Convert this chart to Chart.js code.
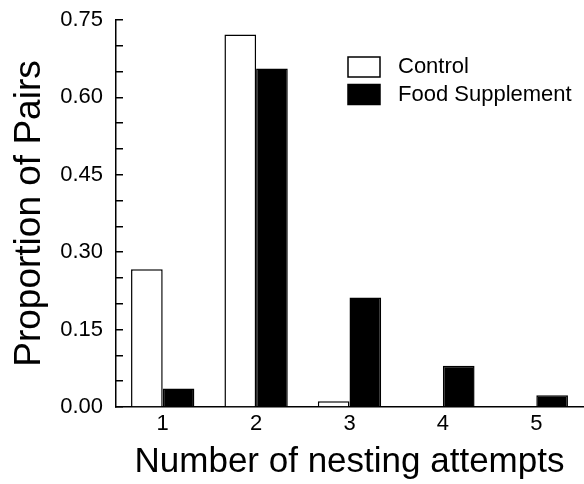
<!DOCTYPE html>
<html>
<head>
<meta charset="utf-8">
<script src="https://cdn.jsdelivr.net/npm/chart.js@4"></script>
<style>
    html, body { margin: 0; padding: 0; background: #fff; }
    canvas { display: block; }
</style>
</head>
<body>
<canvas id="chart" width="584" height="484"></canvas>
<script>
(function (window, document) {
    "use strict";

    const categories = ["1", "2", "3", "4", "5"];
    const seriesNames = ["Control", "Food Supplement"];
    const controlValues = [0.267, 0.722, 0.011, 0, 0];
    const foodValues = [0.036, 0.656, 0.212, 0.080, 0.023];
    const yMajorTicks = [0, 0.15, 0.30, 0.45, 0.60, 0.75];

    const FONT = "'Liberation Sans', Arial, Helvetica, sans-serif";

    // legend drawn inside the plot, top right, like the original figure
    const insideLegend = {
        id: "insideLegend",
        afterDatasetsDraw(chart) {
            const ctx = chart.ctx;
            const area = chart.chartArea;
            const x = area.left + 232;
            ctx.save();
            ctx.font = "22px " + FONT;
            ctx.textBaseline = "middle";
            chart.data.datasets.forEach((ds, i) => {
                const top = area.top + 37 + i * 27.5;
                ctx.fillStyle = ds.backgroundColor;
                ctx.fillRect(x, top, 32, 20);
                ctx.lineWidth = 1.5;
                ctx.strokeStyle = "#000";
                ctx.strokeRect(x, top, 32, 20);
                ctx.fillStyle = "#000";
                ctx.fillText(ds.label, x + 50, top + 10);
            });
            ctx.restore();
        }
    };

    new Chart(document.getElementById("chart").getContext("2d"), {
        type: "bar",
        data: {
            labels: categories,
            datasets: [
                { label: seriesNames[0], data: controlValues, backgroundColor: "#ffffff", borderColor: "#000", borderWidth: 1.5 },
                { label: seriesNames[1], data: foodValues, backgroundColor: "#000000", borderColor: "#000", borderWidth: 1.5 }
            ]
        },
        options: {
            responsive: false,
            animation: false,
            layout: { padding: { top: 20, right: 1, left: 0, bottom: 0 } },
            datasets: { bar: { categoryPercentage: 0.678, barPercentage: 1.0 } },
            plugins: { legend: { display: false }, tooltip: { enabled: false } },
            scales: {
                x: {
                    grid: { display: true, drawOnChartArea: false, drawTicks: false },
                    border: { display: true, color: "#000", width: 1.5 },
                    ticks: { color: "#000", padding: 4, font: { family: FONT, size: 22 } },
                    title: { display: true, text: "Number of nesting attempts", color: "#000", padding: { top: 0, bottom: 1 }, font: { family: FONT, size: 35 } },
                    afterFit(scale) {
                        scale.height = 77;
                        scale.paddingLeft = 0;
                        scale.paddingRight = 0;
                    }
                },
                y: {
                    min: 0,
                    max: 0.75,
                    grid: { display: true, drawOnChartArea: false, drawTicks: true, tickLength: -7, color: "#000", lineWidth: 1.5 },
                    border: { display: true, color: "#000", width: 1.5 },
                    ticks: {
                        stepSize: 0.05,
                        autoSkip: false,
                        color: "#000",
                        padding: 20,
                        font: { family: FONT, size: 22 },
                        callback(value) {
                            const major = yMajorTicks.find(t => Math.abs(t - value) < 1e-6);
                            return major === undefined ? "" : major.toFixed(2);
                        }
                    },
                    title: { display: true, text: "Proportion of Pairs", color: "#000", padding: { top: 8, bottom: 0 }, font: { family: FONT, size: 37 } },
                    afterFit(scale) {
                        scale.width = 116;
                        scale.paddingTop = 0;
                        scale.paddingBottom = 0;
                    }
                }
            }
        },
        plugins: [insideLegend]
    });
})(window, document);
</script>
</body>
</html>
